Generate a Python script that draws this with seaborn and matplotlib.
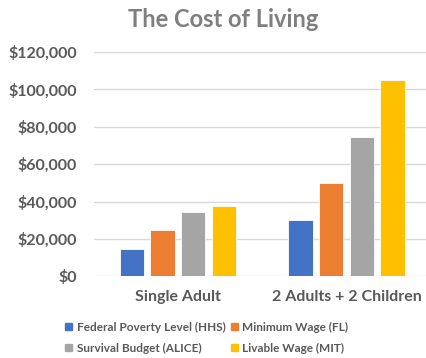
import matplotlib
matplotlib.use("Agg")
import matplotlib.pyplot as plt
import matplotlib.ticker as mticker
import pandas as pd
import seaborn as sns

# Household types and annual cost benchmarks (USD)
households = ["Single Adult", "2 Adults + 2 Children"]
measures = ["Federal Poverty Level (HHS)", "Minimum Wage (FL)",
            "Survival Budget (ALICE)", "Livable Wage (MIT)"]
poverty_level = [14580, 30000]
minimum_wage = [24960, 49920]
survival_budget = [34200, 74500]
livable_wage = [37750, 104800]
colors = ["#4472C4", "#ED7D31", "#A5A5A5", "#FFC000"]

series = [poverty_level, minimum_wage, survival_budget, livable_wage]
df = pd.DataFrame(
    [(h, m, vals[i]) for m, vals in zip(measures, series) for i, h in enumerate(households)],
    columns=["household", "measure", "cost"],
)

sns.set_theme(style="white")
plt.rcParams["font.family"] = ["Lato", "DejaVu Sans"]

fig = plt.figure(figsize=(4.27, 3.58), dpi=100)
ax = fig.add_axes([0.219, 0.228, 0.790, 0.627])

sns.barplot(data=df, x="household", y="cost", hue="measure",
            order=households, hue_order=measures, palette=colors,
            saturation=1, width=0.728, gap=0.2, edgecolor="white",
            linewidth=0.6, ax=ax, legend=False)

ax.set_ylim(0, 120000)
ax.set_xlim(-0.5, 1.5)
ax.yaxis.set_major_locator(mticker.MultipleLocator(20000))
ax.yaxis.set_major_formatter(mticker.FuncFormatter(lambda v, p: f"${v:,.0f}"))
ax.grid(axis="y", color="#D9D9D9", linewidth=1.0)
ax.set_axisbelow(True)
for s in ax.spines.values():
    s.set_visible(False)
ax.set_xlabel("")
ax.set_ylabel("")
ax.tick_params(axis="y", length=0, pad=12, labelsize=11.5, labelcolor="#595959")
ax.tick_params(axis="x", length=0, pad=10, labelsize=11.5, labelcolor="#595959")
for lab in ax.get_yticklabels() + ax.get_xticklabels():
    lab.set_fontweight("bold")

fig.text(0.522, 0.945, "The Cost of Living", ha="center", va="center",
         fontsize=17, fontweight="bold", color="#7F7F7F")

# Legend fills column by column, so order entries to read row by row
handles = [plt.Rectangle((0, 0), 1, 1, color=c) for c in colors]
order = [0, 2, 1, 3]
leg = fig.legend([handles[i] for i in order], [measures[i] for i in order],
                 ncol=2, loc="lower left",
                 bbox_to_anchor=(0.128, -0.018), frameon=False,
                 prop={"size": 8.5, "weight": "bold"},
                 handlelength=0.6, handleheight=0.6, handletextpad=0.4,
                 columnspacing=0.4, labelspacing=0.85)
for t in leg.get_texts():
    t.set_color("#595959")

fig.savefig("out.png", dpi=100)
